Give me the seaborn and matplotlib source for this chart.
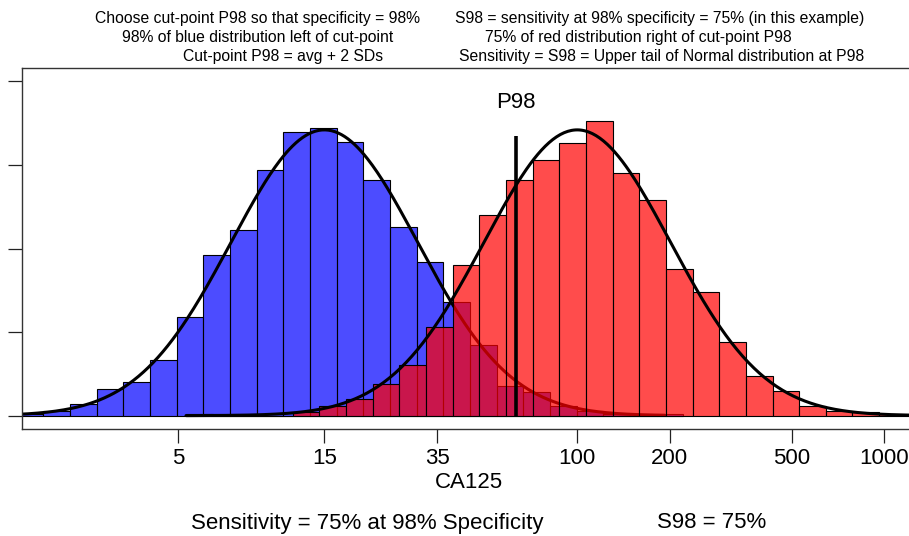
import numpy as np
import pandas as pd
import matplotlib
matplotlib.use("Agg")
import matplotlib.pyplot as plt
import seaborn as sns

# counts per bin of log(CA125), bins 0.2 wide on the natural-log scale
bin_width = 0.2
blue_first_edge = 0.4
blue_counts = [1, 3, 7, 16, 20, 33, 59, 96, 111, 147, 170, 172, 164, 141,
               113, 92, 68, 42, 18, 14, 6, 3, 1, 1, 1]
red_first_edge = 1.67
red_counts = [1, 0, 0, 0, 2, 6, 10, 19, 30, 53, 90, 120, 141, 153, 163, 176,
              145, 129, 88, 74, 44, 24, 15, 6, 3, 2, 1, 1]

# normal curves (log scale)
n_per_group = 1500
blue_center = 15
red_center = 100
log_sd = 0.7
blue_span = (0.4, 5.26)
red_span = (1.67, 7.3)
cut_z = 2.054          # P98 cut-point in SDs above the blue average

tick_values = [5, 15, 35, 100, 200, 500, 1000]
tick_labels = ["5", "15", "35", "100", "200", "500", "1000"]

top_left = ["Choose cut-point P98 so that specificity = 98%",
            "98% of blue distribution left of cut-point",
            "Cut-point P98 = avg + 2 SDs"]
top_right = ["S98 = sensitivity at 98% specificity = 75% (in this example)",
             "75% of red distribution right of cut-point P98",
             "Sensitivity = S98 = Upper tail of Normal distribution at P98"]
bottom_text = ["Sensitivity = 75% at 98% Specificity", "S98 = 75%"]


def hist_frame(first_edge, counts):
    edges = np.round(first_edge + bin_width * np.arange(len(counts) + 1), 3)
    df = pd.DataFrame({"logx": edges[:-1] + bin_width / 2, "n": counts})
    return df, edges.tolist()


def normal_curve(center, span):
    xs = np.linspace(span[0], span[1], 400)
    mu = np.log(center)
    ys = n_per_group * bin_width * np.exp(-0.5 * ((xs - mu) / log_sd) ** 2) / (log_sd * np.sqrt(2 * np.pi))
    return pd.DataFrame({"logx": xs, "y": ys})


sns.set_style("ticks")
plt.rcParams["font.family"] = ["Liberation Sans", "DejaVu Sans"]
plt.rcParams["text.color"] = "black"
plt.rcParams["xtick.color"] = "black"
plt.rcParams["ytick.color"] = "black"
plt.rcParams["axes.labelcolor"] = "black"

W, H = 909, 536
fig = plt.figure(figsize=(W / 100, H / 100), dpi=100)

x_lo, x_hi = 0.442, 7.15
px_per_unit = 133.3
left_px, top_px, bottom_px = 22.3, 68, 429
ax = fig.add_axes([left_px / W, 1 - bottom_px / H,
                   (x_hi - x_lo) * px_per_unit / W, (bottom_px - top_px) / H])

blue_df, blue_edges = hist_frame(blue_first_edge, blue_counts)
red_df, red_edges = hist_frame(red_first_edge, red_counts)

sns.histplot(data=blue_df, x="logx", weights="n", bins=blue_edges, ax=ax,
             color=(0, 0, 1), alpha=0.7, edgecolor="black", linewidth=0.8, zorder=1)
sns.lineplot(data=normal_curve(blue_center, blue_span), x="logx", y="y", ax=ax,
             color="black", linewidth=2.2, zorder=2)
sns.histplot(data=red_df, x="logx", weights="n", bins=red_edges, ax=ax,
             color=(1, 0, 0), alpha=0.7, edgecolor="black", linewidth=0.8, zorder=3)
sns.lineplot(data=normal_curve(red_center, red_span), x="logx", y="y", ax=ax,
             color="black", linewidth=2.2, zorder=4)

p98 = np.log(blue_center) + cut_z * log_sd
ax.vlines(p98, -1, 167.5, color="black", linewidth=2.6, zorder=5)
ax.text(p98, 187.5, "P98", ha="center", va="center", fontsize=16)

ax.set_xlim(x_lo, x_hi)
ax.set_ylim(-8, 208)
ax.set_xticks(np.log(tick_values))
ax.set_xticklabels(tick_labels, fontsize=16)
ax.set_yticks([0, 50, 100, 150, 200])
ax.set_yticklabels([])
ax.tick_params(axis="both", length=10, width=0.9, color="#222222", direction="out")
ax.set_xlabel("CA125", fontsize=16, labelpad=2)
ax.set_ylabel("")
for s in ax.spines.values():
    s.set_color("#333333")
    s.set_linewidth(1.0)

# header lines and footer
row_y = [18, 37.5, 57]
left_cx = [257.5, 257.5, 283.5]
right_cx = [660, 638, 662]
for i in range(3):
    fig.text(left_cx[i] / W, 1 - row_y[i] / H, top_left[i], ha="center", va="center", fontsize=11.3)
    fig.text(right_cx[i] / W, 1 - row_y[i] / H, top_right[i], ha="center", va="center", fontsize=11.3)
fig.text(367.5 / W, 1 - 523 / H, bottom_text[0], ha="center", va="center", fontsize=16)
fig.text(711.5 / W, 1 - 523 / H, bottom_text[1], ha="center", va="center", fontsize=16)

fig.savefig("out.png", dpi=100)
